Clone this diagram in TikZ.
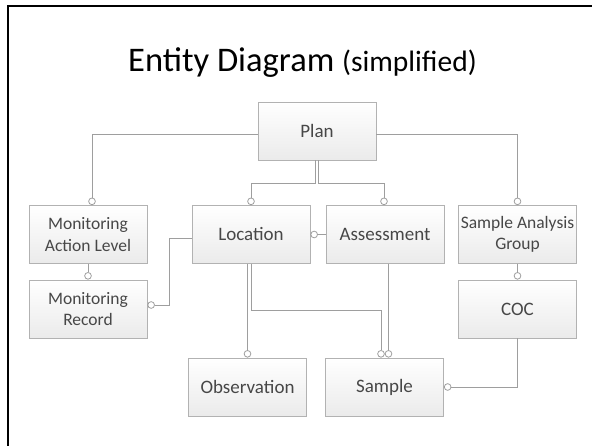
\documentclass[tikz,border=0pt]{standalone}
\usepackage{fontspec}
\setmainfont{Carlito}
\usetikzlibrary{arrows.meta}

\begin{document}
\begin{tikzpicture}
  [x=1pt, y=-1pt,
   entity/.style={draw=black!30, line width=0.8pt, top color=white, bottom color=black!8,
                  minimum width=118pt, minimum height=58pt, inner sep=0pt,
                  text=black!72, font=\fontsize{19}{23}\selectfont, align=center},
   twoline/.style={entity, font=\fontsize{17.5}{21.5}\selectfont},
   conn/.style={draw=black!38, line width=0.8pt, -{Circle[open,length=7.5pt,width=7.5pt]}}]
  \useasboundingbox (0,0) rectangle (592,446);
  \draw[line width=2.5pt] (8,446) -- (8,6) -- (592,6);
  \node[anchor=base] (title) at (302.5,72)
     {\fontsize{34.5}{40}\selectfont Entity Diagram \fontsize{29.5}{34}\selectfont(simplified)};
  \node[entity] (plan) at (317,131) {Plan};
  \node[twoline] (mal) at (88,234.5) {Monitoring\\Action Level};
  \node[twoline] (mrec) at (88,309) {Monitoring\\Record};
  \node[entity] (loc) at (251,234.5) {Location};
  \node[entity] (assess) at (385,234.5) {Assessment};
  \node[twoline] (sag) at (517.5,234.5) {Sample Analysis\\Group};
  \node[entity] (coc) at (517.5,309) {COC};
  \node[entity] (obs) at (247.5,387) {Observation};
  \node[entity] (sample) at (384.5,387) {Sample};
  \draw[conn] ([yshift=-3pt]plan.west) -| ([xshift=4pt]mal.north);
  \draw[conn] ([yshift=-3pt]plan.east) -| (sag.north);
  \draw[conn] ([xshift=-1.5pt]plan.south) -- ++(0,23) -| (loc.north);
  \draw[conn] ([xshift=1.5pt]plan.south) -- ++(0,23) -| ([xshift=-1pt]assess.north);
  \draw[conn] (assess.west) -- (loc.east);
  \draw[conn] (mal.south) -- (mrec.north);
  \draw[conn] ([yshift=-3.5pt]loc.west) -- ++(-22,0) |- ([yshift=4pt]mrec.east);
  \draw[conn] (sag.south) -- (coc.north);
  \draw[conn] (obs.north |- loc.south) -- (obs.north);
  \draw[conn] (loc.south) -- ++(0,47) -| ([xshift=-3.5pt]sample.north);
  \draw[conn] ([xshift=4pt]sample.north |- assess.south) -- ([xshift=4pt]sample.north);
  \draw[conn] (coc.south) |- (sample.east);
\end{tikzpicture}
\end{document}
